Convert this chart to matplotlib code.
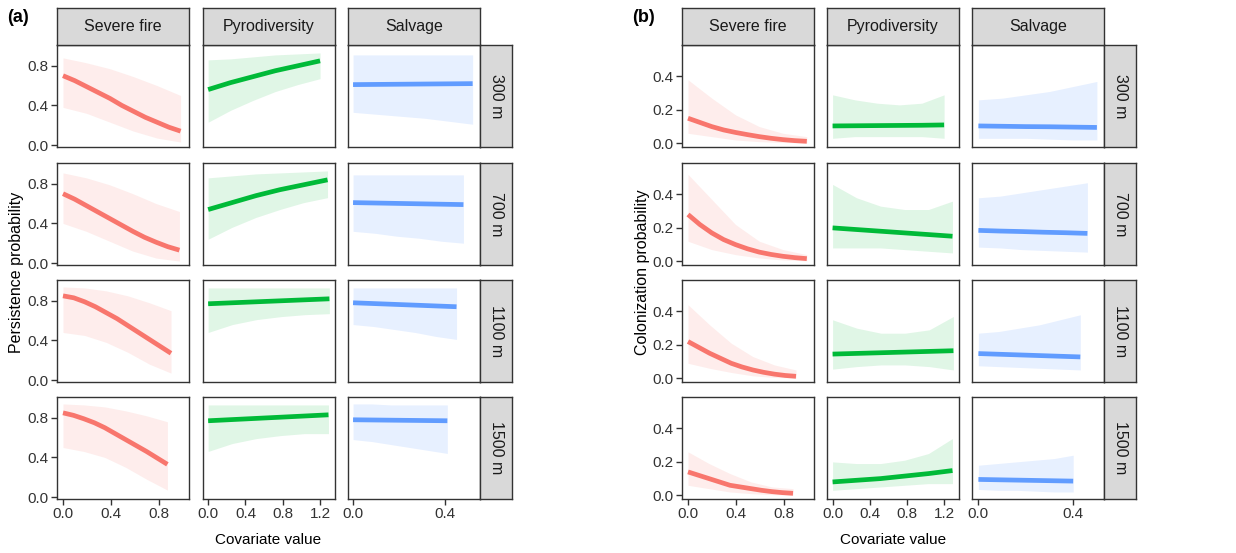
import numpy as np
import matplotlib
matplotlib.use("Agg")
import matplotlib.pyplot as plt

plt.rcParams['font.family'] = ['Liberation Sans', 'DejaVu Sans']

covariates = ['Severe fire', 'Pyrodiversity', 'Salvage']
distances = ['300 m', '700 m', '1100 m', '1500 m']
colors = ['#F8766D', '#00BA38', '#619CFF']
band_alpha = [0.13, 0.12, 0.15]

# values read at evenly spaced covariate values from 0 to x_end (one row per distance)
# (a) persistence
persist_fire_xend = [0.98, 0.97, 0.90, 0.87]
persist_fire_fit = [[0.70, 0.65, 0.59, 0.53, 0.47, 0.40, 0.34, 0.28, 0.23, 0.18, 0.14],
                    [0.70, 0.645, 0.58, 0.515, 0.45, 0.385, 0.32, 0.26, 0.21, 0.165, 0.13],
                    [0.85, 0.83, 0.79, 0.74, 0.68, 0.62, 0.55, 0.48, 0.41, 0.34, 0.27],
                    [0.85, 0.825, 0.79, 0.75, 0.70, 0.64, 0.58, 0.52, 0.46, 0.395, 0.33]]
persist_fire_lo = [[0.38, 0.32, 0.23, 0.14, 0.07, 0.03],
                   [0.40, 0.32, 0.22, 0.12, 0.05, 0.02],
                   [0.48, 0.45, 0.38, 0.28, 0.16, 0.07],
                   [0.50, 0.46, 0.40, 0.30, 0.18, 0.07]]
persist_fire_hi = [[0.88, 0.83, 0.77, 0.69, 0.60, 0.50],
                   [0.91, 0.86, 0.79, 0.70, 0.60, 0.52],
                   [0.94, 0.93, 0.90, 0.85, 0.78, 0.70],
                   [0.94, 0.93, 0.91, 0.87, 0.82, 0.76]]

persist_pyro_xend = [1.20, 1.28, 1.30, 1.29]
persist_pyro_fit = [[0.56, 0.63, 0.69, 0.75, 0.80, 0.85],
                    [0.54, 0.61, 0.68, 0.74, 0.79, 0.84],
                    [0.77, 0.78, 0.79, 0.80, 0.81, 0.82],
                    [0.77, 0.782, 0.794, 0.806, 0.818, 0.83]]
persist_pyro_lo = [[0.23, 0.35, 0.45, 0.54, 0.61, 0.67],
                   [0.24, 0.36, 0.46, 0.54, 0.61, 0.66],
                   [0.48, 0.56, 0.61, 0.64, 0.66, 0.67],
                   [0.46, 0.54, 0.59, 0.62, 0.64, 0.64]]
persist_pyro_hi = [[0.86, 0.87, 0.89, 0.91, 0.92, 0.93],
                   [0.86, 0.88, 0.90, 0.91, 0.92, 0.93],
                   [0.93, 0.93, 0.93, 0.93, 0.93, 0.93],
                   [0.93, 0.93, 0.93, 0.93, 0.93, 0.93]]

persist_salv_xend = [0.52, 0.48, 0.45, 0.41]
persist_salv_fit = [[0.61, 0.612, 0.614, 0.616, 0.618, 0.62],
                    [0.61, 0.606, 0.602, 0.598, 0.594, 0.59],
                    [0.78, 0.772, 0.764, 0.756, 0.748, 0.74],
                    [0.78, 0.778, 0.776, 0.774, 0.772, 0.77]]
persist_salv_lo = [[0.33, 0.31, 0.29, 0.27, 0.24, 0.21],
                   [0.32, 0.30, 0.27, 0.25, 0.22, 0.20],
                   [0.56, 0.54, 0.51, 0.48, 0.44, 0.41],
                   [0.58, 0.56, 0.53, 0.50, 0.47, 0.44]]
persist_salv_hi = [[0.91, 0.91, 0.91, 0.91, 0.91, 0.91],
                   [0.89, 0.89, 0.89, 0.89, 0.89, 0.89],
                   [0.93, 0.93, 0.93, 0.93, 0.93, 0.93],
                   [0.94, 0.94, 0.93, 0.93, 0.93, 0.93]]

# (b) colonization
colon_fire_xend = [0.99, 0.99, 0.90, 0.875]
colon_fire_fit = [[0.15, 0.125, 0.10, 0.08, 0.065, 0.052, 0.04, 0.03, 0.022, 0.016, 0.012],
                  [0.28, 0.22, 0.17, 0.13, 0.10, 0.075, 0.055, 0.041, 0.03, 0.022, 0.016],
                  [0.22, 0.185, 0.15, 0.12, 0.09, 0.068, 0.05, 0.036, 0.025, 0.017, 0.012],
                  [0.14, 0.12, 0.10, 0.08, 0.06, 0.05, 0.04, 0.03, 0.022, 0.016, 0.012]]
colon_fire_lo = [[0.06, 0.04, 0.02, 0.01, 0.005, 0.002],
                 [0.12, 0.07, 0.04, 0.02, 0.008, 0.003],
                 [0.09, 0.06, 0.035, 0.015, 0.005, 0.002],
                 [0.06, 0.04, 0.02, 0.01, 0.004, 0.002]]
colon_fire_hi = [[0.38, 0.27, 0.17, 0.10, 0.06, 0.04],
                 [0.52, 0.37, 0.22, 0.12, 0.07, 0.04],
                 [0.44, 0.32, 0.21, 0.13, 0.08, 0.05],
                 [0.26, 0.19, 0.13, 0.08, 0.05, 0.04]]

colon_pyro_xend = [1.20, 1.29, 1.30, 1.29]
colon_pyro_fit = [[0.104, 0.105, 0.106, 0.107, 0.108, 0.11],
                  [0.20, 0.19, 0.18, 0.17, 0.16, 0.15],
                  [0.145, 0.149, 0.153, 0.157, 0.161, 0.165],
                  [0.08, 0.09, 0.10, 0.115, 0.13, 0.148]]
colon_pyro_lo = [[0.03, 0.04, 0.04, 0.04, 0.04, 0.03],
                 [0.08, 0.08, 0.08, 0.07, 0.06, 0.05],
                 [0.055, 0.07, 0.08, 0.08, 0.07, 0.05],
                 [0.03, 0.04, 0.05, 0.06, 0.07, 0.07]]
colon_pyro_hi = [[0.29, 0.26, 0.24, 0.23, 0.24, 0.29],
                 [0.46, 0.38, 0.33, 0.31, 0.31, 0.36],
                 [0.35, 0.30, 0.27, 0.27, 0.29, 0.37],
                 [0.20, 0.19, 0.19, 0.21, 0.25, 0.34]]

colon_salv_xend = [0.50, 0.46, 0.43, 0.40]
colon_salv_fit = [[0.104, 0.102, 0.100, 0.099, 0.097, 0.095],
                  [0.185, 0.181, 0.178, 0.174, 0.171, 0.167],
                  [0.148, 0.144, 0.140, 0.136, 0.132, 0.128],
                  [0.095, 0.093, 0.091, 0.089, 0.087, 0.085]]
colon_salv_lo = [[0.03, 0.03, 0.03, 0.025, 0.02, 0.02],
                 [0.085, 0.08, 0.07, 0.065, 0.06, 0.055],
                 [0.075, 0.07, 0.065, 0.06, 0.055, 0.05],
                 [0.035, 0.03, 0.03, 0.025, 0.02, 0.02]]
colon_salv_hi = [[0.26, 0.27, 0.29, 0.31, 0.34, 0.37],
                 [0.38, 0.39, 0.41, 0.43, 0.45, 0.47],
                 [0.27, 0.28, 0.30, 0.32, 0.35, 0.38],
                 [0.18, 0.19, 0.20, 0.21, 0.22, 0.24]]

x_ticks = [[0.0, 0.4, 0.8], [0.0, 0.4, 0.8, 1.2], [0.0, 0.4]]

W, H = 1236, 553
fig = plt.figure(figsize=(W / 100, H / 100), dpi=100)
EDGE = '#333333'


def px_axes(x0, y0, x1, y1):
    return fig.add_axes([x0 / W, 1 - y1 / H, (x1 - x0) / W, (y1 - y0) / H])


def strip(x0, y0, x1, y1, label, rot=0):
    ax = px_axes(x0, y0, x1, y1)
    ax.set_facecolor('#D9D9D9')
    ax.set_xticks([])
    ax.set_yticks([])
    for s in ax.spines.values():
        s.set_color(EDGE)
        s.set_linewidth(1.0)
    ax.text(0.5, 0.5, label, rotation=rot, ha='center', va='center',
            fontsize=11.5, color='#1a1a1a', transform=ax.transAxes)


def draw_block(lefts, tops, pw, ph, data, xlims, ylim, yticks, ylabel, tag):
    for r in range(4):
        for c in range(3):
            xend, fit, lo, hi = data[c]
            ax = px_axes(lefts[c], tops[r], lefts[c] + pw, tops[r] + ph)
            xb = np.linspace(0, xend[r], len(lo[r]))
            xf = np.linspace(0, xend[r], len(fit[r]))
            ax.fill_between(xb, lo[r], hi[r], color=colors[c], alpha=band_alpha[c], lw=0)
            ax.plot(xf, fit[r], color=colors[c], lw=3.4, solid_capstyle='butt',
                    solid_joinstyle='round')
            ax.set_xlim(xlims[c])
            ax.set_ylim(ylim)
            ax.set_xticks(x_ticks[c])
            ax.set_yticks(yticks)
            ax.xaxis.set_major_formatter(plt.FormatStrFormatter('%.1f'))
            ax.yaxis.set_major_formatter(plt.FormatStrFormatter('%.1f'))
            ax.tick_params(direction='out', length=4, width=1, color=EDGE,
                           labelsize=11, labelcolor='#333333', pad=2,
                           left=(c == 0), labelleft=(c == 0),
                           bottom=(r == 3), labelbottom=(r == 3))
            for s in ax.spines.values():
                s.set_color(EDGE)
                s.set_linewidth(1.0)
        strip(lefts[2] + pw, tops[r], lefts[2] + pw + 32, tops[r] + ph,
              distances[r], rot=-90)
    for c in range(3):
        strip(lefts[c], 8, lefts[c] + pw, tops[0], covariates[c])
    fig.text((lefts[0] - 40) / W, 1 - (tops[0] + tops[3] + ph) / 2 / H, ylabel,
             rotation=90, ha='center', va='center', fontsize=11.5)
    fig.text((lefts[0] + lefts[2] + pw) / 2 / W, 1 - 540 / H, 'Covariate value',
             ha='center', va='center', fontsize=11)
    fig.text((lefts[0] - 50) / W, 1 - 18 / H, tag, ha='left', va='center',
             fontsize=13, fontweight='bold')


tops = [45, 163, 280, 397]
draw_block([57, 203, 348], tops, 132, 102,
           [(persist_fire_xend, persist_fire_fit, persist_fire_lo, persist_fire_hi),
            (persist_pyro_xend, persist_pyro_fit, persist_pyro_lo, persist_pyro_hi),
            (persist_salv_xend, persist_salv_fit, persist_salv_lo, persist_salv_hi)],
           [(-0.05, 1.05), (-0.055, 1.36), (-0.022, 0.552)], (-0.02, 1.01),
           [0.0, 0.4, 0.8], 'Persistence probability', '(a)')
draw_block([682, 827, 972], tops, 132, 102,
           [(colon_fire_xend, colon_fire_fit, colon_fire_lo, colon_fire_hi),
            (colon_pyro_xend, colon_pyro_fit, colon_pyro_lo, colon_pyro_hi),
            (colon_salv_xend, colon_salv_fit, colon_salv_lo, colon_salv_hi)],
           [(-0.05, 1.05), (-0.06, 1.36), (-0.027, 0.53)], (-0.022, 0.588),
           [0.0, 0.2, 0.4], 'Colonization probability', '(b)')

fig.savefig('out.png', dpi=100)
